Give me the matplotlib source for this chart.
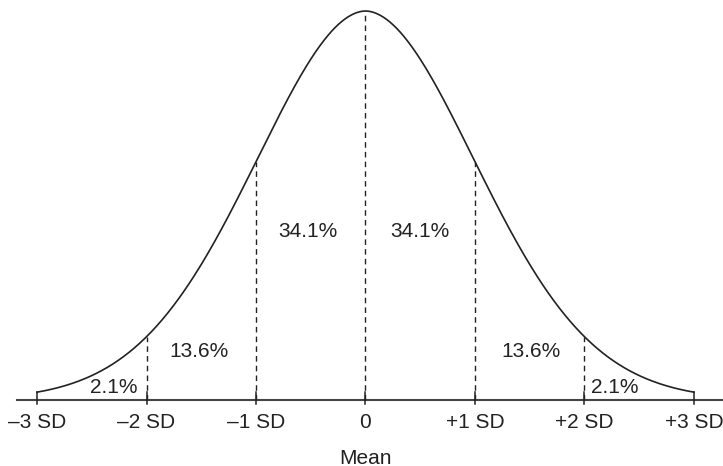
import matplotlib
matplotlib.use("Agg")
import matplotlib.pyplot as plt
import numpy as np

plt.rcParams["font.family"] = ["Liberation Sans", "DejaVu Sans"]

# data
sd_ticks = [-3, -2, -1, 0, 1, 2, 3]
tick_labels = ["\u20133 SD", "\u20132 SD", "\u20131 SD", "0", "+1 SD", "+2 SD", "+3 SD"]
dashed_at = [-2, -1, 0, 1, 2]
pct_labels = ["2.1%", "13.6%", "34.1%", "34.1%", "13.6%", "2.1%"]
pct_x = [-2.30, -1.52, -0.53, 0.50, 1.51, 2.28]
pct_y = [0.0133, 0.0502, 0.1723, 0.1723, 0.0502, 0.0133]

# the drawn bell is a touch fuller in the tails than an exact gaussian
PEAK = 0.3989
DECAY = 0.49
SHAPE = 1.89


def bell(x):
    return PEAK * np.exp(-DECAY * np.abs(np.asarray(x, dtype=float)) ** SHAPE)


fig = plt.figure(figsize=(7.23, 4.66), dpi=100)
ax = fig.add_axes([0, 0, 1, 1])
ax.set_xlim(-3.338, 3.265)
ax.set_ylim(-0.0677, 0.4102)
ax.axis("off")

ink = "#222222"

# curve
xs = np.linspace(-3, 3, 600)
ax.plot(xs, bell(xs), color=ink, lw=1.2)

# baseline
ax.plot([-3.183, 3.4], [0, 0], color="#444444", lw=1.5, clip_on=False)

# ticks and labels
for t, lab in zip(sd_ticks, tick_labels):
    ax.plot([t, t], [-0.0041, 0.0082], color=ink, lw=1.1)
    ax.text(t, -0.0236, lab, ha="center", va="center", fontsize=15, color=ink)
ax.text(0, -0.0595, "Mean", ha="center", va="center", fontsize=15, color=ink)

# dashed verticals
for d in dashed_at:
    ax.plot([d, d], [0, bell(d)], color=ink, lw=1.0, ls=(0, (4, 3)))

# percentages
for x, y, s in zip(pct_x, pct_y, pct_labels):
    ax.text(x, y, s, ha="center", va="center", fontsize=15, color=ink)

fig.savefig("out.png", dpi=100)
